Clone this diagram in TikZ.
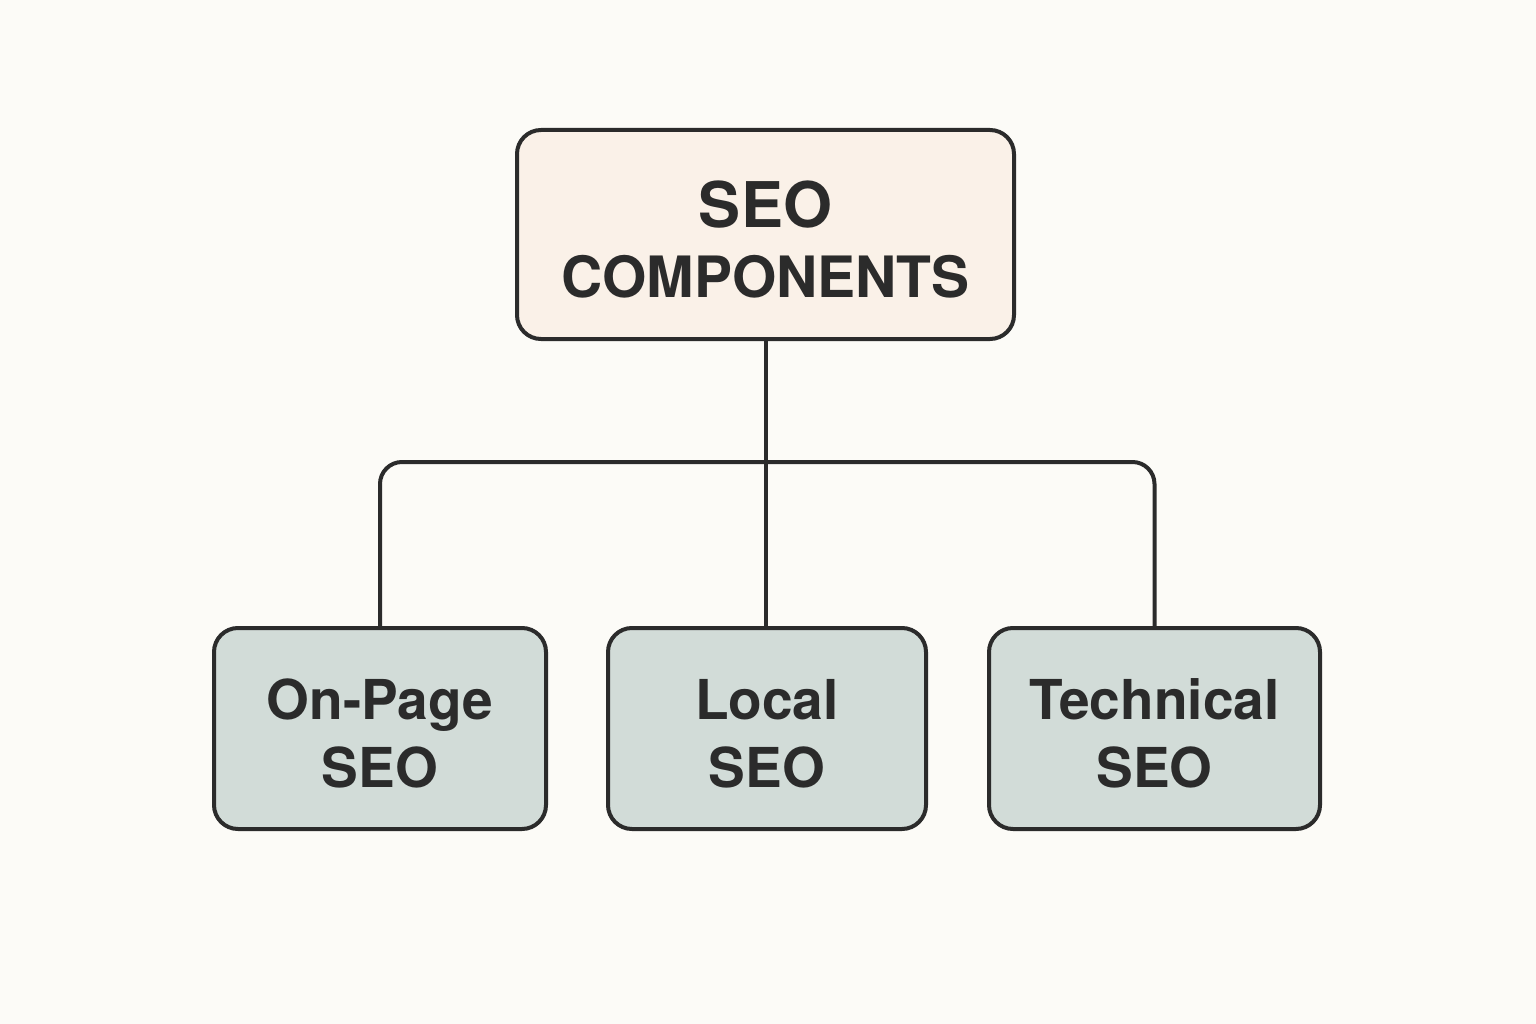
\documentclass[tikz,border=0pt]{standalone}
\usepackage{fontspec}
\setmainfont{TeX Gyre Heros}
\definecolor{bgc}{HTML}{FCFBF7}
\definecolor{topfill}{HTML}{FAF1E8}
\definecolor{subfill}{HTML}{D2DCD8}
\definecolor{ink}{HTML}{2B2B2B}
\tikzset{
  box/.style={draw=ink, line width=4pt, rounded corners=24pt, inner sep=0pt},
  topbox/.style={box, fill=topfill, minimum width=497pt, minimum height=209pt},
  subbox/.style={box, fill=subfill, minimum height=201pt},
  toptxt/.style={align=center, text=ink, inner sep=0pt, font=\bfseries\fontsize{57}{70}\selectfont},
  subtxt/.style={align=center, text=ink, inner sep=0pt, font=\bfseries\fontsize{55}{68}\selectfont},
  link/.style={draw=ink, line width=4pt}
}
\begin{document}
\begin{tikzpicture}[x=1pt,y=-1pt]
\fill[bgc] (0,0) rectangle (1536,1024);
\useasboundingbox (0,0) rectangle (1536,1024);
\node[topbox] (top) at (765.5,234.5) {};
\node[subbox, minimum width=332pt] (onpage) at (380,728.5) {};
\node[subbox, minimum width=318pt] (local) at (767,728.5) {};
\node[subbox, minimum width=331pt] (tech) at (1154.5,728.5) {};
\node[toptxt, yshift=-5pt] (toplab) at (top.center) {{\fontsize{63}{70}\selectfont SEO}\\COMPONENTS};
\node[subtxt, yshift=-5pt] (onpagelab) at (onpage.center) {On-Page\\SEO};
\node[subtxt, yshift=-5pt] (locallab) at (local.center) {Local\\SEO};
\node[subtxt, yshift=-5pt] (techlab) at (tech.center) {Technical\\SEO};
\coordinate (bus) at (766,462);
\draw[link] (top.south -| bus) -- (bus |- local.north);
\draw[link, rounded corners=22pt] (onpage.north) |- (bus) -| (tech.north);
\end{tikzpicture}
\end{document}
